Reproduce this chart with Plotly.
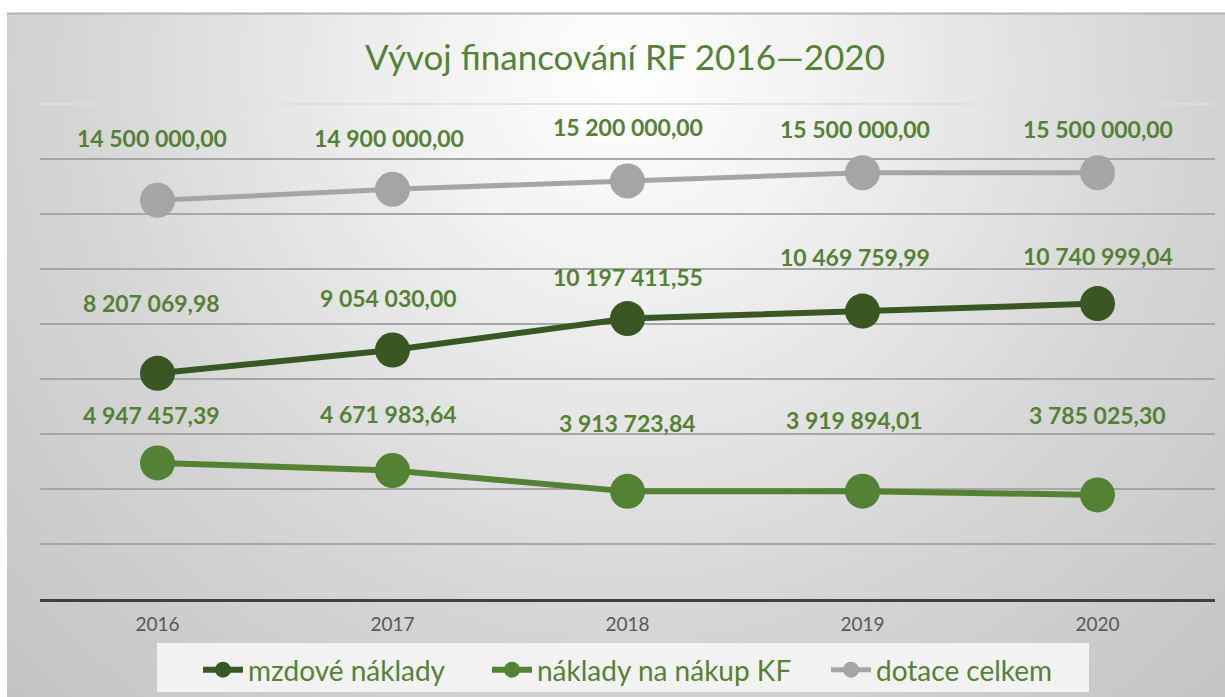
import base64
import plotly.graph_objects as go

# ---- data ----
years = ["2016", "2017", "2018", "2019", "2020"]
mzdove_naklady = [8207069.98, 9054030.00, 10197411.55, 10469759.99, 10740999.04]
naklady_kf = [4947457.39, 4671983.64, 3913723.84, 3919894.01, 3785025.30]
dotace_celkem = [14500000.00, 14900000.00, 15200000.00, 15500000.00, 15500000.00]
series_names = ["mzdové náklady", "náklady na nákup KF", "dotace celkem"]

# label placement (pixels above the point), style only
label_shift_mzdove = [70, 52, 42, 54, 48]
label_shift_kf = [48, 57, 68, 71, 80]
label_shift_dotace = [62, 51, 54, 44, 44]
label_xshift = [-6, -4, 0, -8, 0]

C_DARK = "#385723"
C_MID = "#548235"
C_GRAY = "#A5A5A5"
C_TEXT = "#548235"
FONT = "Lato"


def cz(v):
    return f"{v:,.2f}".replace(",", " ").replace(".", ",")


L, R, T, B = 40, 10, 104, 98
W, H = 1225, 697
pw, ph = W - L - R, H - T - B


def px_x(p):
    return (p - L) / pw


def px_y(p):
    return (H - B - p) / ph


fig = go.Figure()
legend_ids = ["legend", "legend2", "legend3"]
for name, vals, col, lw, lg in [
    (series_names[0], mzdove_naklady, C_DARK, 6, legend_ids[0]),
    (series_names[1], naklady_kf, C_MID, 6, legend_ids[1]),
    (series_names[2], dotace_celkem, C_GRAY, 5, legend_ids[2]),
]:
    fig.add_trace(go.Scatter(
        x=years, y=vals, name=name, mode="lines+markers",
        line=dict(color=col, width=lw),
        marker=dict(color=col, size=35),
        hoverinfo="skip", legend=lg,
    ))

annotations = []
for vals, shifts in [
    (mzdove_naklady, label_shift_mzdove),
    (naklady_kf, label_shift_kf),
    (dotace_celkem, label_shift_dotace),
]:
    for i, (yr, v) in enumerate(zip(years, vals)):
        annotations.append(dict(
            x=i, y=v, xref="x", yref="y", text="<b>" + cz(v) + "</b>",
            showarrow=False, yshift=shifts[i], xshift=label_xshift[i],
            font=dict(family=FONT, size=23, color=C_TEXT),
        ))

# background gradient as an SVG image
svg = (
    '<svg xmlns="http://www.w3.org/2000/svg" width="1218" height="684">'
    '<defs><radialGradient id="g" gradientUnits="userSpaceOnUse" cx="620" cy="60" r="900">'
    '<stop offset="0" stop-color="#ffffff"/>'
    '<stop offset="0.2" stop-color="#f3f3f3"/>'
    '<stop offset="0.6" stop-color="#d6d6d6"/>'
    '<stop offset="1" stop-color="#c2c2c2"/>'
    '</radialGradient></defs>'
    '<rect width="1218" height="684" fill="url(#g)"/></svg>'
)
src = "data:image/svg+xml;base64," + base64.b64encode(svg.encode()).decode()

legend_style = dict(orientation="h", xanchor="left", yanchor="middle",
                    xref="container", yref="container",
                    bgcolor="rgba(0,0,0,0)",
                    font=dict(family=FONT, size=28, color=C_TEXT), itemwidth=40)
legend_left_px = [198, 487, 826]
legend_mid_px = 670

layout_legends = {}
for lg, lx in zip(legend_ids, legend_left_px):
    layout_legends[lg] = dict(legend_style, x=lx / W, y=1 - legend_mid_px / H)

fig.update_layout(
    width=W, height=H, autosize=False,
    margin=dict(l=L, r=R, t=T, b=B, autoexpand=False),
    paper_bgcolor="white", plot_bgcolor="rgba(0,0,0,0)",
    title=dict(text="Vývoj financování RF 2016—2020", x=px_x(625), xref="paper",
               xanchor="center", y=1 - 58 / H, yref="container", yanchor="middle",
               font=dict(family=FONT, size=35, color=C_TEXT)),
    images=[dict(source=src, xref="paper", yref="paper", x=px_x(7), y=px_y(13),
                 sizex=1218 / pw, sizey=684 / ph, xanchor="left", yanchor="top",
                 sizing="stretch", layer="below")],
    shapes=[
        dict(type="line", xref="paper", yref="paper", x0=px_x(7), x1=px_x(1225),
             y0=px_y(13.5), y1=px_y(13.5), line=dict(color="#b4b4b4", width=2)),
        dict(type="line", xref="paper", yref="paper", x0=0, x1=1, y0=1, y1=1,
             line=dict(color="#dedede", width=1.5), layer="below"),
        dict(type="rect", xref="paper", yref="paper", x0=px_x(157), x1=px_x(1089),
             y0=px_y(643), y1=px_y(692), fillcolor="#f2f2f2",
             line=dict(width=0), layer="below"),
    ],
    xaxis=dict(type="category", range=[-0.5, 4.5], showgrid=False, zeroline=False,
               showline=True, linecolor="#404040", linewidth=3, ticks="",
               ticklabelstandoff=6,
               tickfont=dict(family=FONT, size=19, color="#595959")),
    yaxis=dict(range=[0, 18e6], tickvals=[2e6 * k for k in range(1, 9)],
               showticklabels=False, showgrid=True, gridcolor="#a6a6a6",
               gridwidth=1.5, zeroline=False, showline=False),
    annotations=annotations,
    showlegend=True,
    **layout_legends,
)

fig.write_html("out.html")
